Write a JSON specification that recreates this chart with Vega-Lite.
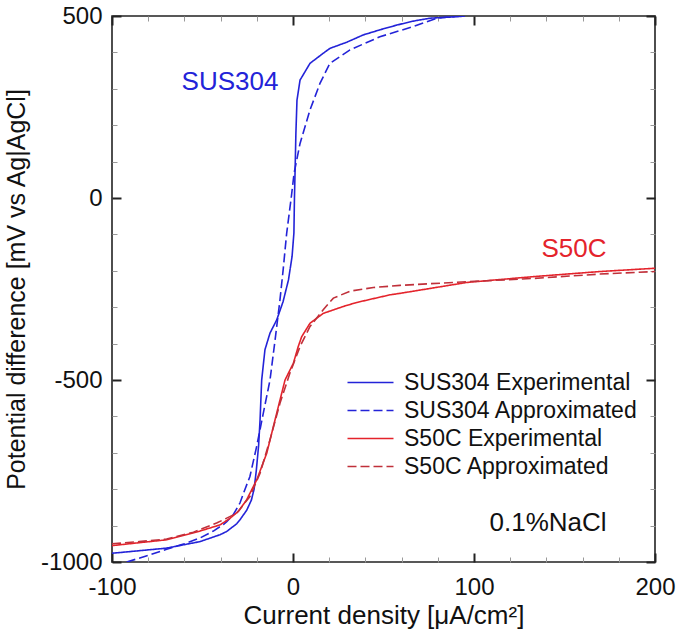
{
  "$schema": "https://vega.github.io/schema/vega-lite/v6.json",
  "width": 543,
  "height": 546,
  "autosize": {"type": "none"},
  "padding": {"left": 112, "top": 16, "right": 29, "bottom": 70},
  "background": "white",
  "config": {
    "view": {"stroke": "#222", "strokeWidth": 1.6},
    "font": "Liberation Sans",
    "axis": {
      "grid": false,
      "domain": false,
      "labelFont": "Liberation Sans",
      "titleFont": "Liberation Sans",
      "labelColor": "#111",
      "titleColor": "#111",
      "titleFontWeight": "normal",
      "labelFlush": false,
      "labelOverlap": false
    }
  },
  "datasets": {
    "curves": [
      {"s": "SUS304 Experimental", "x": -100, "y": -976},
      {"s": "SUS304 Experimental", "x": -85, "y": -969},
      {"s": "SUS304 Experimental", "x": -70, "y": -962},
      {"s": "SUS304 Experimental", "x": -51.4, "y": -944},
      {"s": "SUS304 Experimental", "x": -40.3, "y": -925},
      {"s": "SUS304 Experimental", "x": -36.6, "y": -916},
      {"s": "SUS304 Experimental", "x": -31.1, "y": -895},
      {"s": "SUS304 Experimental", "x": -29.3, "y": -884},
      {"s": "SUS304 Experimental", "x": -25.6, "y": -858},
      {"s": "SUS304 Experimental", "x": -23, "y": -830},
      {"s": "SUS304 Experimental", "x": -21.5, "y": -800},
      {"s": "SUS304 Experimental", "x": -20.3, "y": -750},
      {"s": "SUS304 Experimental", "x": -19, "y": -680},
      {"s": "SUS304 Experimental", "x": -18.2, "y": -610},
      {"s": "SUS304 Experimental", "x": -17.3, "y": -500},
      {"s": "SUS304 Experimental", "x": -15.5, "y": -417},
      {"s": "SUS304 Experimental", "x": -12.7, "y": -371},
      {"s": "SUS304 Experimental", "x": -9, "y": -335},
      {"s": "SUS304 Experimental", "x": -5.5, "y": -285},
      {"s": "SUS304 Experimental", "x": -2.5, "y": -225},
      {"s": "SUS304 Experimental", "x": -0.5, "y": -160},
      {"s": "SUS304 Experimental", "x": 0.5, "y": -96},
      {"s": "SUS304 Experimental", "x": 0.8, "y": 0},
      {"s": "SUS304 Experimental", "x": 1.2, "y": 85},
      {"s": "SUS304 Experimental", "x": 1.6, "y": 178},
      {"s": "SUS304 Experimental", "x": 2.2, "y": 269},
      {"s": "SUS304 Experimental", "x": 3.9, "y": 324},
      {"s": "SUS304 Experimental", "x": 9.4, "y": 370},
      {"s": "SUS304 Experimental", "x": 16.8, "y": 398},
      {"s": "SUS304 Experimental", "x": 20.4, "y": 411},
      {"s": "SUS304 Experimental", "x": 29.7, "y": 428},
      {"s": "SUS304 Experimental", "x": 38.8, "y": 448},
      {"s": "SUS304 Experimental", "x": 48, "y": 462},
      {"s": "SUS304 Experimental", "x": 57.3, "y": 475},
      {"s": "SUS304 Experimental", "x": 66.5, "y": 486},
      {"s": "SUS304 Experimental", "x": 75.7, "y": 494},
      {"s": "SUS304 Experimental", "x": 90.4, "y": 498},
      {"s": "SUS304 Experimental", "x": 95, "y": 500},
      {"s": "SUS304 Approximated", "x": -91.9, "y": -1000},
      {"s": "SUS304 Approximated", "x": -80, "y": -982},
      {"s": "SUS304 Approximated", "x": -69.8, "y": -965},
      {"s": "SUS304 Approximated", "x": -60, "y": -950},
      {"s": "SUS304 Approximated", "x": -51.4, "y": -934},
      {"s": "SUS304 Approximated", "x": -44, "y": -915},
      {"s": "SUS304 Approximated", "x": -38.5, "y": -897},
      {"s": "SUS304 Approximated", "x": -36.6, "y": -889},
      {"s": "SUS304 Approximated", "x": -33, "y": -870},
      {"s": "SUS304 Approximated", "x": -29.3, "y": -838},
      {"s": "SUS304 Approximated", "x": -26.5, "y": -800},
      {"s": "SUS304 Approximated", "x": -23.8, "y": -765},
      {"s": "SUS304 Approximated", "x": -20.1, "y": -683},
      {"s": "SUS304 Approximated", "x": -16.4, "y": -591},
      {"s": "SUS304 Approximated", "x": -12.7, "y": -500},
      {"s": "SUS304 Approximated", "x": -9.9, "y": -390},
      {"s": "SUS304 Approximated", "x": -7.2, "y": -280},
      {"s": "SUS304 Approximated", "x": -5.5, "y": -200},
      {"s": "SUS304 Approximated", "x": -3.5, "y": -97},
      {"s": "SUS304 Approximated", "x": -1, "y": 0},
      {"s": "SUS304 Approximated", "x": 0.6, "y": 68},
      {"s": "SUS304 Approximated", "x": 3.9, "y": 150},
      {"s": "SUS304 Approximated", "x": 9.4, "y": 242},
      {"s": "SUS304 Approximated", "x": 14.9, "y": 315},
      {"s": "SUS304 Approximated", "x": 20.4, "y": 370},
      {"s": "SUS304 Approximated", "x": 31.5, "y": 407},
      {"s": "SUS304 Approximated", "x": 48, "y": 443},
      {"s": "SUS304 Approximated", "x": 66.5, "y": 471},
      {"s": "SUS304 Approximated", "x": 79.4, "y": 494},
      {"s": "SUS304 Approximated", "x": 92, "y": 500},
      {"s": "S50C Experimental", "x": -100, "y": -955},
      {"s": "S50C Experimental", "x": -85, "y": -947},
      {"s": "S50C Experimental", "x": -69.8, "y": -939},
      {"s": "S50C Experimental", "x": -51.4, "y": -915},
      {"s": "S50C Experimental", "x": -40.3, "y": -898},
      {"s": "S50C Experimental", "x": -34.8, "y": -880},
      {"s": "S50C Experimental", "x": -30, "y": -860},
      {"s": "S50C Experimental", "x": -25.6, "y": -829},
      {"s": "S50C Experimental", "x": -20, "y": -774},
      {"s": "S50C Experimental", "x": -14.5, "y": -701},
      {"s": "S50C Experimental", "x": -9, "y": -591},
      {"s": "S50C Experimental", "x": -4.4, "y": -500},
      {"s": "S50C Experimental", "x": 0.2, "y": -454},
      {"s": "S50C Experimental", "x": 2.9, "y": -408},
      {"s": "S50C Experimental", "x": 4.8, "y": -381},
      {"s": "S50C Experimental", "x": 9.4, "y": -344},
      {"s": "S50C Experimental", "x": 16.7, "y": -317},
      {"s": "S50C Experimental", "x": 27.8, "y": -298},
      {"s": "S50C Experimental", "x": 35.2, "y": -287},
      {"s": "S50C Experimental", "x": 53.6, "y": -266},
      {"s": "S50C Experimental", "x": 59.1, "y": -262},
      {"s": "S50C Experimental", "x": 96, "y": -232},
      {"s": "S50C Experimental", "x": 132.8, "y": -216},
      {"s": "S50C Experimental", "x": 169.6, "y": -202},
      {"s": "S50C Experimental", "x": 200, "y": -193},
      {"s": "S50C Approximated", "x": -100, "y": -950},
      {"s": "S50C Approximated", "x": -85, "y": -944},
      {"s": "S50C Approximated", "x": -69.8, "y": -937},
      {"s": "S50C Approximated", "x": -55, "y": -918},
      {"s": "S50C Approximated", "x": -42.2, "y": -893},
      {"s": "S50C Approximated", "x": -31.1, "y": -866},
      {"s": "S50C Approximated", "x": -23.8, "y": -820},
      {"s": "S50C Approximated", "x": -18.2, "y": -756},
      {"s": "S50C Approximated", "x": -12.7, "y": -664},
      {"s": "S50C Approximated", "x": -7.2, "y": -564},
      {"s": "S50C Approximated", "x": -1.7, "y": -481},
      {"s": "S50C Approximated", "x": 3.9, "y": -408},
      {"s": "S50C Approximated", "x": 9.4, "y": -353},
      {"s": "S50C Approximated", "x": 16.7, "y": -307},
      {"s": "S50C Approximated", "x": 22.3, "y": -275},
      {"s": "S50C Approximated", "x": 31.5, "y": -256},
      {"s": "S50C Approximated", "x": 44.4, "y": -246},
      {"s": "S50C Approximated", "x": 59.1, "y": -240},
      {"s": "S50C Approximated", "x": 96, "y": -230},
      {"s": "S50C Approximated", "x": 132.8, "y": -221},
      {"s": "S50C Approximated", "x": 169.6, "y": -209},
      {"s": "S50C Approximated", "x": 200, "y": -202}
    ]
  },
  "resolve": {
    "scale": {"x": "shared", "y": "shared"},
    "axis": {"x": "independent", "y": "independent"}
  },
  "layer": [
    {
      "data": {"name": "curves"},
      "mark": {"type": "line", "strokeWidth": 1.6, "clip": true},
      "encoding": {
        "x": {
          "field": "x", "type": "quantitative",
          "scale": {"domain": [-100, 200], "nice": false, "zero": false},
          "axis": {
            "orient": "bottom", "values": [-100, 0, 100, 200], "labelExpr": "'' + datum.value",
            "tickSize": -9, "tickWidth": 2, "tickColor": "#222",
            "labelPadding": 22, "labelFontSize": 24,
            "title": "Current density [μA/cm²]", "titleFontSize": 26, "titlePadding": 3
          }
        },
        "y": {
          "field": "y", "type": "quantitative",
          "scale": {"domain": [-1000, 500], "nice": false, "zero": false},
          "axis": {
            "orient": "left", "values": [-1000, -500, 0, 500], "labelExpr": "'' + datum.value",
            "tickSize": -9, "tickWidth": 2, "tickColor": "#222",
            "labelPadding": 19, "labelFontSize": 24,
            "title": "Potential difference [mV vs Ag|AgCl]", "titleFontSize": 25, "titlePadding": 11
          }
        },
        "order": {"field": "y", "type": "quantitative"},
        "color": {
          "field": "s", "type": "nominal",
          "scale": {
            "domain": ["SUS304 Experimental", "SUS304 Approximated", "S50C Experimental", "S50C Approximated"],
            "range": ["#2323d8", "#2323d8", "#e4232b", "#c0303a"]
          },
          "legend": {
            "orient": "none", "legendX": 247, "legendY": 355, "title": null,
            "padding": 0, "rowPadding": 4,
            "symbolType": "M-2.3,0H2.3", "symbolSize": 400, "symbolStrokeWidth": 1.6,
            "labelFont": "Liberation Sans", "labelFontSize": 23, "labelColor": "#111",
            "labelOffset": 22, "labelLimit": 400
          }
        },
        "strokeDash": {
          "field": "s", "type": "nominal",
          "scale": {
            "domain": ["SUS304 Experimental", "SUS304 Approximated", "S50C Experimental", "S50C Approximated"],
            "range": [[1, 0], [9, 4], [1, 0], [9, 4]]
          },
          "legend": {
            "orient": "none", "legendX": 247, "legendY": 355, "title": null,
            "padding": 0, "rowPadding": 4,
            "symbolType": "M-2.3,0H2.3", "symbolSize": 400, "symbolStrokeWidth": 1.6,
            "labelFont": "Liberation Sans", "labelFontSize": 23, "labelColor": "#111",
            "labelOffset": 22, "labelLimit": 400
          }
        }
      }
    },
    {
      "data": {"name": "curves"},
      "mark": {"type": "point", "opacity": 0},
      "encoding": {
        "x": {
          "field": "x", "type": "quantitative",
          "axis": {
            "orient": "bottom", "values": [-80, -60, -40, -20, 20, 40, 60, 80, 120, 140, 160, 180],
            "tickSize": -5, "tickWidth": 1, "tickColor": "#999", "labels": false, "title": null
          }
        },
        "y": {
          "field": "y", "type": "quantitative",
          "axis": {
            "orient": "left", "values": [-900, -800, -700, -600, -400, -300, -200, -100, 100, 200, 300, 400],
            "tickSize": -5, "tickWidth": 1, "tickColor": "#999", "labels": false, "title": null
          }
        }
      }
    },
    {
      "data": {"name": "curves"},
      "mark": {"type": "point", "opacity": 0},
      "encoding": {
        "x": {
          "field": "x", "type": "quantitative",
          "axis": {
            "orient": "top", "values": [-100, 0, 100, 200],
            "tickSize": -9, "tickWidth": 2, "tickColor": "#222", "labels": false, "title": null
          }
        },
        "y": {
          "field": "y", "type": "quantitative",
          "axis": {
            "orient": "right", "values": [-1000, -500, 0, 500],
            "tickSize": -9, "tickWidth": 2, "tickColor": "#222", "labels": false, "title": null
          }
        }
      }
    },
    {
      "data": {"name": "curves"},
      "mark": {"type": "point", "opacity": 0},
      "encoding": {
        "x": {
          "field": "x", "type": "quantitative",
          "axis": {
            "orient": "top", "values": [-80, -60, -40, -20, 20, 40, 60, 80, 120, 140, 160, 180],
            "tickSize": -5, "tickWidth": 1, "tickColor": "#999", "labels": false, "title": null
          }
        },
        "y": {
          "field": "y", "type": "quantitative",
          "axis": {
            "orient": "right", "values": [-900, -800, -700, -600, -400, -300, -200, -100, 100, 200, 300, 400],
            "tickSize": -5, "tickWidth": 1, "tickColor": "#999", "labels": false, "title": null
          }
        }
      }
    },
    {
      "data": {"values": [{"x": -34.8, "y": 319, "t": "SUS304"}]},
      "mark": {"type": "text", "color": "#2323d8", "fontSize": 26, "font": "Liberation Sans", "align": "center", "baseline": "middle"},
      "encoding": {
        "x": {"field": "x", "type": "quantitative", "axis": null},
        "y": {"field": "y", "type": "quantitative", "axis": null},
        "text": {"field": "t"}
      }
    },
    {
      "data": {"values": [{"x": 155.2, "y": -140, "t": "S50C"}]},
      "mark": {"type": "text", "color": "#e4232b", "fontSize": 26, "font": "Liberation Sans", "align": "center", "baseline": "middle"},
      "encoding": {
        "x": {"field": "x", "type": "quantitative", "axis": null},
        "y": {"field": "y", "type": "quantitative", "axis": null},
        "text": {"field": "t"}
      }
    },
    {
      "data": {"values": [{"x": 140.9, "y": -892, "t": "0.1%NaCl"}]},
      "mark": {"type": "text", "color": "#111", "fontSize": 26, "font": "Liberation Sans", "align": "center", "baseline": "middle"},
      "encoding": {
        "x": {"field": "x", "type": "quantitative", "axis": null},
        "y": {"field": "y", "type": "quantitative", "axis": null},
        "text": {"field": "t"}
      }
    }
  ]
}
